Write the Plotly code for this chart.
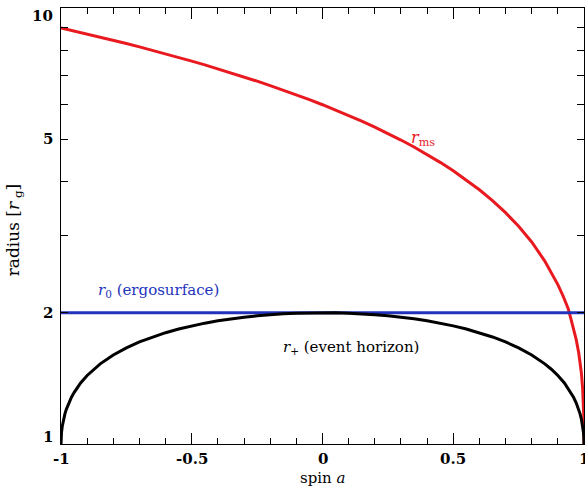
import plotly.graph_objects as go

# ISCO radius r_ms vs spin
spin_ms = [-1.0, -0.95, -0.9, -0.85, -0.8, -0.75, -0.7, -0.65, -0.6, -0.55, -0.5, -0.45, -0.4,
           -0.35, -0.3, -0.25, -0.2, -0.15, -0.1, -0.05, 0.0, 0.05, 0.1, 0.15, 0.2, 0.25, 0.3,
           0.35, 0.4, 0.45, 0.5, 0.55, 0.6, 0.65, 0.7, 0.75, 0.8, 0.85, 0.9, 0.92, 0.94, 0.95,
           0.96, 0.97, 0.98, 0.99, 0.995, 0.998, 0.999, 0.9995, 0.9999, 1.0]
r_ms = [9.0, 8.859, 8.717, 8.575, 8.432, 8.288, 8.143, 7.997, 7.851, 7.703, 7.555, 7.405, 7.254,
        7.102, 6.949, 6.795, 6.639, 6.482, 6.323, 6.163, 6.0, 5.835, 5.669, 5.500, 5.329, 5.156,
        4.979, 4.799, 4.614, 4.426, 4.233, 4.034, 3.829, 3.616, 3.393, 3.158, 2.907, 2.628, 2.321,
        2.185, 2.040, 1.937, 1.836, 1.738, 1.614, 1.455, 1.336, 1.237, 1.182, 1.145, 1.079, 1.0]

# Event horizon r_+ vs spin
spin_h = [-1.0, -0.99999, -0.9999, -0.9995, -0.998, -0.995, -0.99, -0.985, -0.98, -0.97, -0.96,
          -0.95, -0.925, -0.9, -0.875, -0.85, -0.8, -0.75, -0.7, -0.65, -0.6, -0.55, -0.5, -0.45,
          -0.4, -0.35, -0.3, -0.25, -0.2, -0.15, -0.1, -0.05, 0.0, 0.05, 0.1, 0.15, 0.2, 0.25,
          0.3, 0.35, 0.4, 0.45, 0.5, 0.55, 0.6, 0.65, 0.7, 0.75, 0.8, 0.85, 0.875, 0.9, 0.925,
          0.95, 0.96, 0.97, 0.98, 0.985, 0.99, 0.995, 0.998, 0.9995, 0.9999, 0.99999, 1.0]
r_h = [1.0, 1.0045, 1.0141, 1.0316, 1.0632, 1.0999, 1.1411, 1.1726, 1.199, 1.2431, 1.28,
       1.3122, 1.3800, 1.4359, 1.4841, 1.5268, 1.6, 1.6614, 1.7141, 1.7599, 1.8, 1.8352, 1.866,
       1.893, 1.9165, 1.9367, 1.9539, 1.9682, 1.9798, 1.9887, 1.995, 1.9987, 2.0, 1.9987, 1.995,
       1.9887, 1.9798, 1.9682, 1.9539, 1.9367, 1.9165, 1.893, 1.866, 1.8352, 1.8, 1.7599,
       1.7141, 1.6614, 1.6, 1.5268, 1.4841, 1.4359, 1.3800, 1.3122, 1.28, 1.2431, 1.199, 1.1726,
       1.1411, 1.0999, 1.0632, 1.0316, 1.0141, 1.0045, 1.0]

# Ergosurface (equatorial) r_0
spin_e = [-1.0, 1.0]
r_e = [2.0, 2.0]

x_major = [-1, -0.5, 0, 0.5, 1]
x_major_text = ["-1", "-0.5", "0", "0.5", "1"]
x_minor = [-0.9, -0.8, -0.7, -0.6, -0.4, -0.3, -0.2, -0.1, 0.1, 0.2, 0.3, 0.4, 0.6, 0.7, 0.8, 0.9]
y_major = [1, 2, 5, 10]
y_major_text = ["1", "2", "5", "10"]
y_minor = [3, 4, 6, 7, 8, 9]

SERIF = "DejaVu Serif, Liberation Serif, serif"
RED = "#e8191f"
BLUE = "#2233bb"

fig = go.Figure()
fig.add_trace(go.Scatter(x=spin_ms, y=r_ms, mode="lines", line=dict(color=RED, width=3), xaxis="x", yaxis="y"))
fig.add_trace(go.Scatter(x=spin_e, y=r_e, mode="lines", line=dict(color=BLUE, width=3), xaxis="x", yaxis="y"))
fig.add_trace(go.Scatter(x=spin_h, y=r_h, mode="lines", line=dict(color="black", width=3), xaxis="x", yaxis="y"))
fig.add_trace(go.Scatter(x=[None], y=[None], xaxis="x2", yaxis="y2", showlegend=False, hoverinfo="skip"))

axcommon = dict(showgrid=False, zeroline=False, ticks="inside", tickcolor="black", ticklen=11,
                tickwidth=1, showline=True, linecolor="black", linewidth=1)
yax = {**axcommon, "ticklen": 7}
xminor = dict(ticks="inside", tickvals=x_minor, ticklen=6, tickcolor="black", tickwidth=1)
yminor = dict(ticks="inside", tickvals=y_minor, ticklen=7, tickcolor="black", tickwidth=1)

fig.update_layout(
    width=585, height=486,
    margin=dict(l=61, r=1, t=8, b=42),
    paper_bgcolor="white", plot_bgcolor="white",
    showlegend=False,
    font=dict(family=SERIF, color="black"),
    xaxis=dict(range=[-1, 1], tickmode="array", tickvals=x_major, showticklabels=False,
               minor=xminor, **axcommon),
    xaxis2=dict(range=[-1, 1], overlaying="x", side="top", tickmode="array", tickvals=x_major,
                showticklabels=False, minor=xminor, **axcommon),
    yaxis=dict(type="log", range=[0, 1], tickmode="array", tickvals=y_major, showticklabels=False,
               minor=yminor, **yax),
    yaxis2=dict(type="log", range=[0, 1], overlaying="y", side="right", tickmode="array",
                tickvals=y_major, showticklabels=False, minor=yminor, **yax),
)

BOLD = dict(family=SERIF, size=15, color="black", weight="bold")
ann = []
# x tick labels
for v, t in zip(x_major, x_major_text):
    ann.append(dict(x=v, xref="x", y=0, yref="paper", text=t, showarrow=False,
                    xanchor="center", yanchor="top", yshift=-4, font=BOLD))
# x axis title
ann.append(dict(x=0, xref="x", y=0, yref="paper", text="spin <i>a</i>", showarrow=False,
                xanchor="center", yanchor="top", yshift=-23, font=dict(family=SERIF, size=15)))
# y tick labels (end labels kept inside the axis span)
ylab_pos = {"1": (0.0, 7), "2": (0.30103, 0), "5": (0.69897, 0), "10": (1.0, -8)}
for v, t in zip(y_major, y_major_text):
    yy, shift = ylab_pos[t]
    ann.append(dict(x=0, xref="paper", y=yy, yref="y", text=t, showarrow=False,
                    xanchor="right", yanchor="middle", xshift=-6, yshift=shift, font=BOLD))
# y axis title
ann.append(dict(x=-0.09, xref="paper", y=0.49, yref="paper", text="radius [<i>r</i><sub> g</sub>]",
                showarrow=False, textangle=-90, xanchor="center", yanchor="middle",
                font=dict(family=SERIF, size=17, color="black")))
# curve labels
ann.append(dict(x=0.33, xref="x", y=0.7, yref="y", text="<i>r</i><sub>ms</sub>", showarrow=False,
                xanchor="left", yanchor="middle", font=dict(family=SERIF, size=16, color=RED)))
ann.append(dict(x=-0.865, xref="x", y=0.352, yref="y", text="<i>r</i><sub>0</sub> (ergosurface)",
                showarrow=False, xanchor="left", yanchor="middle",
                font=dict(family=SERIF, size=15, color=BLUE)))
ann.append(dict(x=-0.16, xref="x", y=0.222, yref="y", text="<i>r</i><sub>+</sub> (event horizon)",
                showarrow=False, xanchor="left", yanchor="middle",
                font=dict(family=SERIF, size=15, color="black")))
fig.update_layout(annotations=ann)

fig.write_html("out.html")
